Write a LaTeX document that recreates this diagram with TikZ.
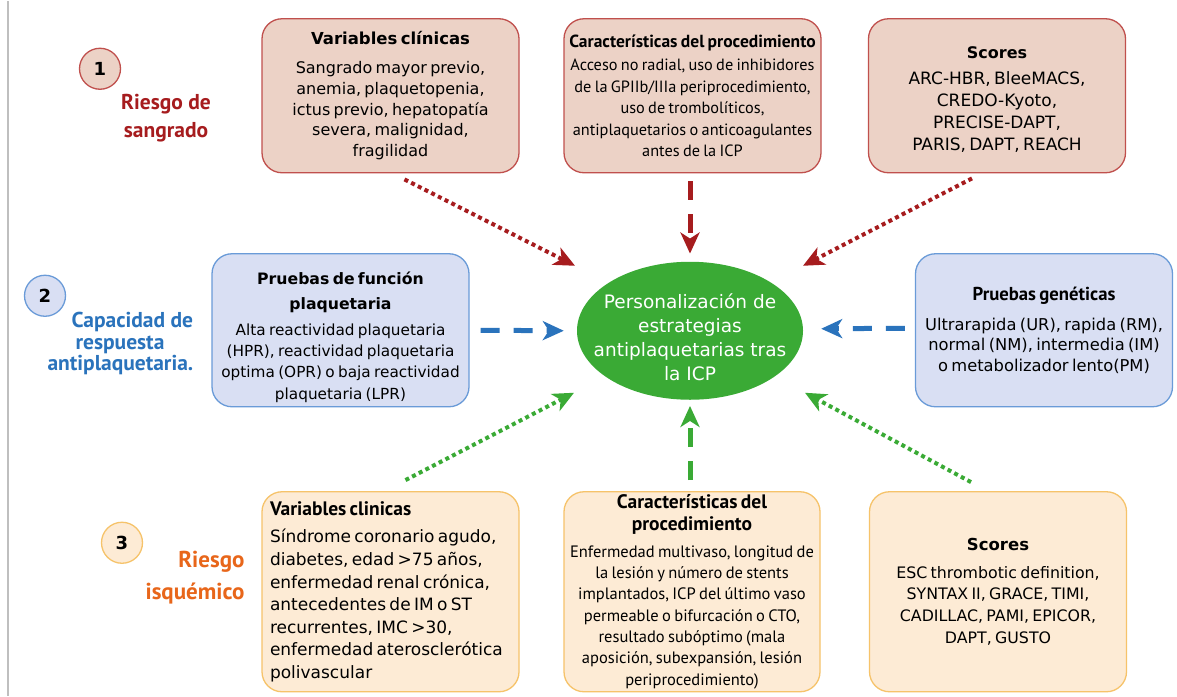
\documentclass[tikz,border=0pt]{standalone}
\usepackage{fontspec}
\setmainfont{DejaVu Sans}
\newfontfamily\narrowfont{PT Sans}
\usetikzlibrary{shapes.geometric,arrows.meta}

% colours of the three groups
\definecolor{bleedFill}{HTML}{ECD2C6}
\definecolor{bleedLine}{HTML}{C0504D}
\definecolor{bleedText}{HTML}{A61C1E}
\definecolor{respFill}{HTML}{D9DFF3}
\definecolor{respLine}{HTML}{6A9BD8}
\definecolor{respText}{HTML}{2A73BC}
\definecolor{ischFill}{HTML}{FDEBD5}
\definecolor{ischLine}{HTML}{F6C36A}
\definecolor{ischText}{HTML}{E8661A}
\definecolor{persGreen}{HTML}{3AAA35}

\newcommand{\fsz}[2]{\fontsize{#1}{#2}\selectfont}

\begin{document}
\begin{tikzpicture}[x=1pt, y=-1pt,
    card/.style={draw, line width=1.3pt, rounded corners=20pt, text width=241pt,
        inner xsep=8pt, inner ysep=4pt, align=center},
    bleed/.style={card, draw=bleedLine, fill=bleedFill, minimum height=154pt},
    resp/.style={card, draw=respLine, fill=respFill, minimum height=153pt},
    isch/.style={card, draw=ischLine, fill=ischFill, minimum height=200pt},
    num/.style={circle, draw, line width=1.3pt, minimum size=41pt, inner sep=0pt,
        font=\bfseries\fsz{18}{18}},
    dotarrow/.style={line width=4pt, dash pattern=on 4pt off 3.5pt,
        -{Stealth[length=21pt, width=19pt, inset=6pt]}},
    dasharrow/.style={line width=5pt, dash pattern=on 19pt off 14pt,
        -{Stealth[length=21pt, width=19pt, inset=6pt]}}]

    % page and left margin rule
    \fill[white] (0,0) rectangle (1177,695);
    \draw[black!25, line width=1.5pt] (8,0) -- (8,695);

    % Central node
    \node[ellipse, fill=persGreen, text=white, align=center, minimum width=226pt,
        minimum height=138pt, inner xsep=-40pt, inner ysep=-8pt, font=\fsz{18.5}{24}]
        (pers) at (690,330) {\rule{0pt}{28pt}Personalización de\\estrategias\\antiplaquetarias tras\\la ICP};

    % 1) Riesgo de sangrado
    \node[num, draw=bleedLine, fill=bleedFill] (n1) at (100,68) {1};
    \node[text=bleedText, align=center, font=\narrowfont\bfseries\fsz{21.5}{28}]
        (lab1) at (166,117) {Riesgo de\\sangrado};

    \node[bleed] (vcS) at (390.5,95) {{\bfseries\fsz{16.5}{20}Variables clínicas\par}\vspace{8pt}
        {\fsz{16}{20.7}Sangrado mayor previo,\\anemia, plaquetopenia,\\ictus previo, hepatopatía\\severa, malignidad,\\fragilidad\par}};
    \node[bleed, text width=251pt, inner xsep=3pt] (cpS) at (692.5,95)
        {{\narrowfont\bfseries\fsz{17.5}{20}Características del procedimiento\par}\vspace{2pt}
        {\narrowfont\fsz{16.3}{21.5}Acceso no radial, uso de inhibidores\\de la GPIIb/IIIa periprocedimiento,\\uso de trombolíticos,\\antiplaquetarios o anticoagulantes\\antes de la ICP\par}};
    \node[bleed] (scS) at (997,95) {{\bfseries\fsz{16}{20}\rule{0pt}{20pt}Scores\par}\vspace{4pt}
        {\fsz{17}{22}ARC-HBR, BleeMACS,\\CREDO-Kyoto,\\PRECISE-DAPT,\\PARIS, DAPT, REACH\par}};

    % 2) Capacidad de respuesta antiplaquetaria
    \node[num, draw=respLine, fill=respFill] (n2) at (45,295) {2};
    \node[text=respText, align=left, anchor=west, font=\narrowfont\bfseries\fsz{21.5}{21.5}]
        (lab2) at (44,343) {\hspace*{24pt}Capacidad de\\\hspace*{28pt}respuesta\\antiplaquetaria.};

    \node[resp, text width=251pt, inner xsep=3pt, inner ysep=1pt] (pfp) at (340.5,329.5)
        {{\bfseries\fsz{15.7}{25}\rule{0pt}{26pt}Pruebas de función\\plaquetaria\par}\vspace{5pt}
        {\fsz{15.3}{21.3}Alta reactividad plaquetaria\\(HPR), reactividad plaquetaria\\optima (OPR) o baja reactividad\\plaquetaria (LPR)\par}};
    \node[resp, text width=251pt, inner xsep=3pt] (pgen) at (1044,329.5)
        {{\narrowfont\bfseries\fsz{18.7}{20}Pruebas genéticas\par}\vspace{9pt}
        {\fsz{16.3}{20.5}Ultrarapida (UR), rapida (RM),\\normal (NM), intermedia (IM)\\o metabolizador lento(PM)\par}};

    % 3) Riesgo isquemico
    \node[num, draw=ischLine, fill=ischFill] (n3) at (122,542) {3};
    \node[text=ischText, align=right, anchor=east, font=\narrowfont\bfseries\fsz{23}{32}]
        (lab3) at (248,577) {Riesgo\\isquémico};

    \node[isch, align=left, inner ysep=2pt] (vcI) at (390.5,591)
        {{\narrowfont\bfseries\fsz{19.5}{20}Variables clinicas\par}\vspace{5pt}
        {\fsz{17}{22.6}Síndrome coronario agudo,\\diabetes, edad >75 años,\\enfermedad renal crónica,\\antecedentes de IM o ST\\recurrentes, IMC >30,\\enfermedad aterosclerótica\\polivascular\par}};
    \node[isch, text width=250pt, inner xsep=3pt, inner ysep=1pt] (cpI) at (692,591)
        {{\narrowfont\bfseries\fsz{19.5}{22}Características del\\procedimiento\par}\vspace{5pt}
        {\narrowfont\fsz{16.5}{21.3}Enfermedad multivaso, longitud de\\la lesión y número de stents\\implantados, ICP del último vaso\\permeable o bifurcación o CTO,\\resultado subóptimo (mala\\aposición, subexpansión, lesión\\periprocedimiento)\par}};
    \node[isch] (scI) at (998,591) {{\bfseries\fsz{16.5}{20}Scores\par}\vspace{6pt}
        {\fsz{15.8}{21.7}ESC thrombotic definition,\\SYNTAX II, GRACE, TIMI,\\CADILLAC, PAMI, EPICOR,\\DAPT, GUSTO\par}};

    % Arrows into the central node
    \draw[dotarrow, bleedText] ([shift={(14,6)}]vcS.south) -- ([shift={(-115,-65)}]pers.center);
    \draw[dasharrow, bleedText] ([shift={(-2.5,8)}]cpS.south) -- ([shift={(0,-8)}]pers.north);
    \draw[dotarrow, bleedText] ([shift={(-25,5)}]scS.south) -- ([shift={(113,-65)}]pers.center);
    \draw[dasharrow, respText] ([xshift=11pt]pfp.east) -- ([xshift=-13pt]pers.west);
    \draw[dasharrow, respText] ([shift={(-10,-2)}]pgen.west) -- ([shift={(18,-2)}]pers.east);
    \draw[dotarrow, persGreen] ([shift={(15,-11)}]vcI.north) -- ([shift={(-116,62)}]pers.center);
    \draw[dasharrow, persGreen] ([shift={(-2,-11)}]cpI.north) -- ([shift={(0,6)}]pers.south);
    \draw[dotarrow, persGreen] ([shift={(-27,-9)}]scI.north) -- ([shift={(115,62)}]pers.center);
\end{tikzpicture}
\end{document}
